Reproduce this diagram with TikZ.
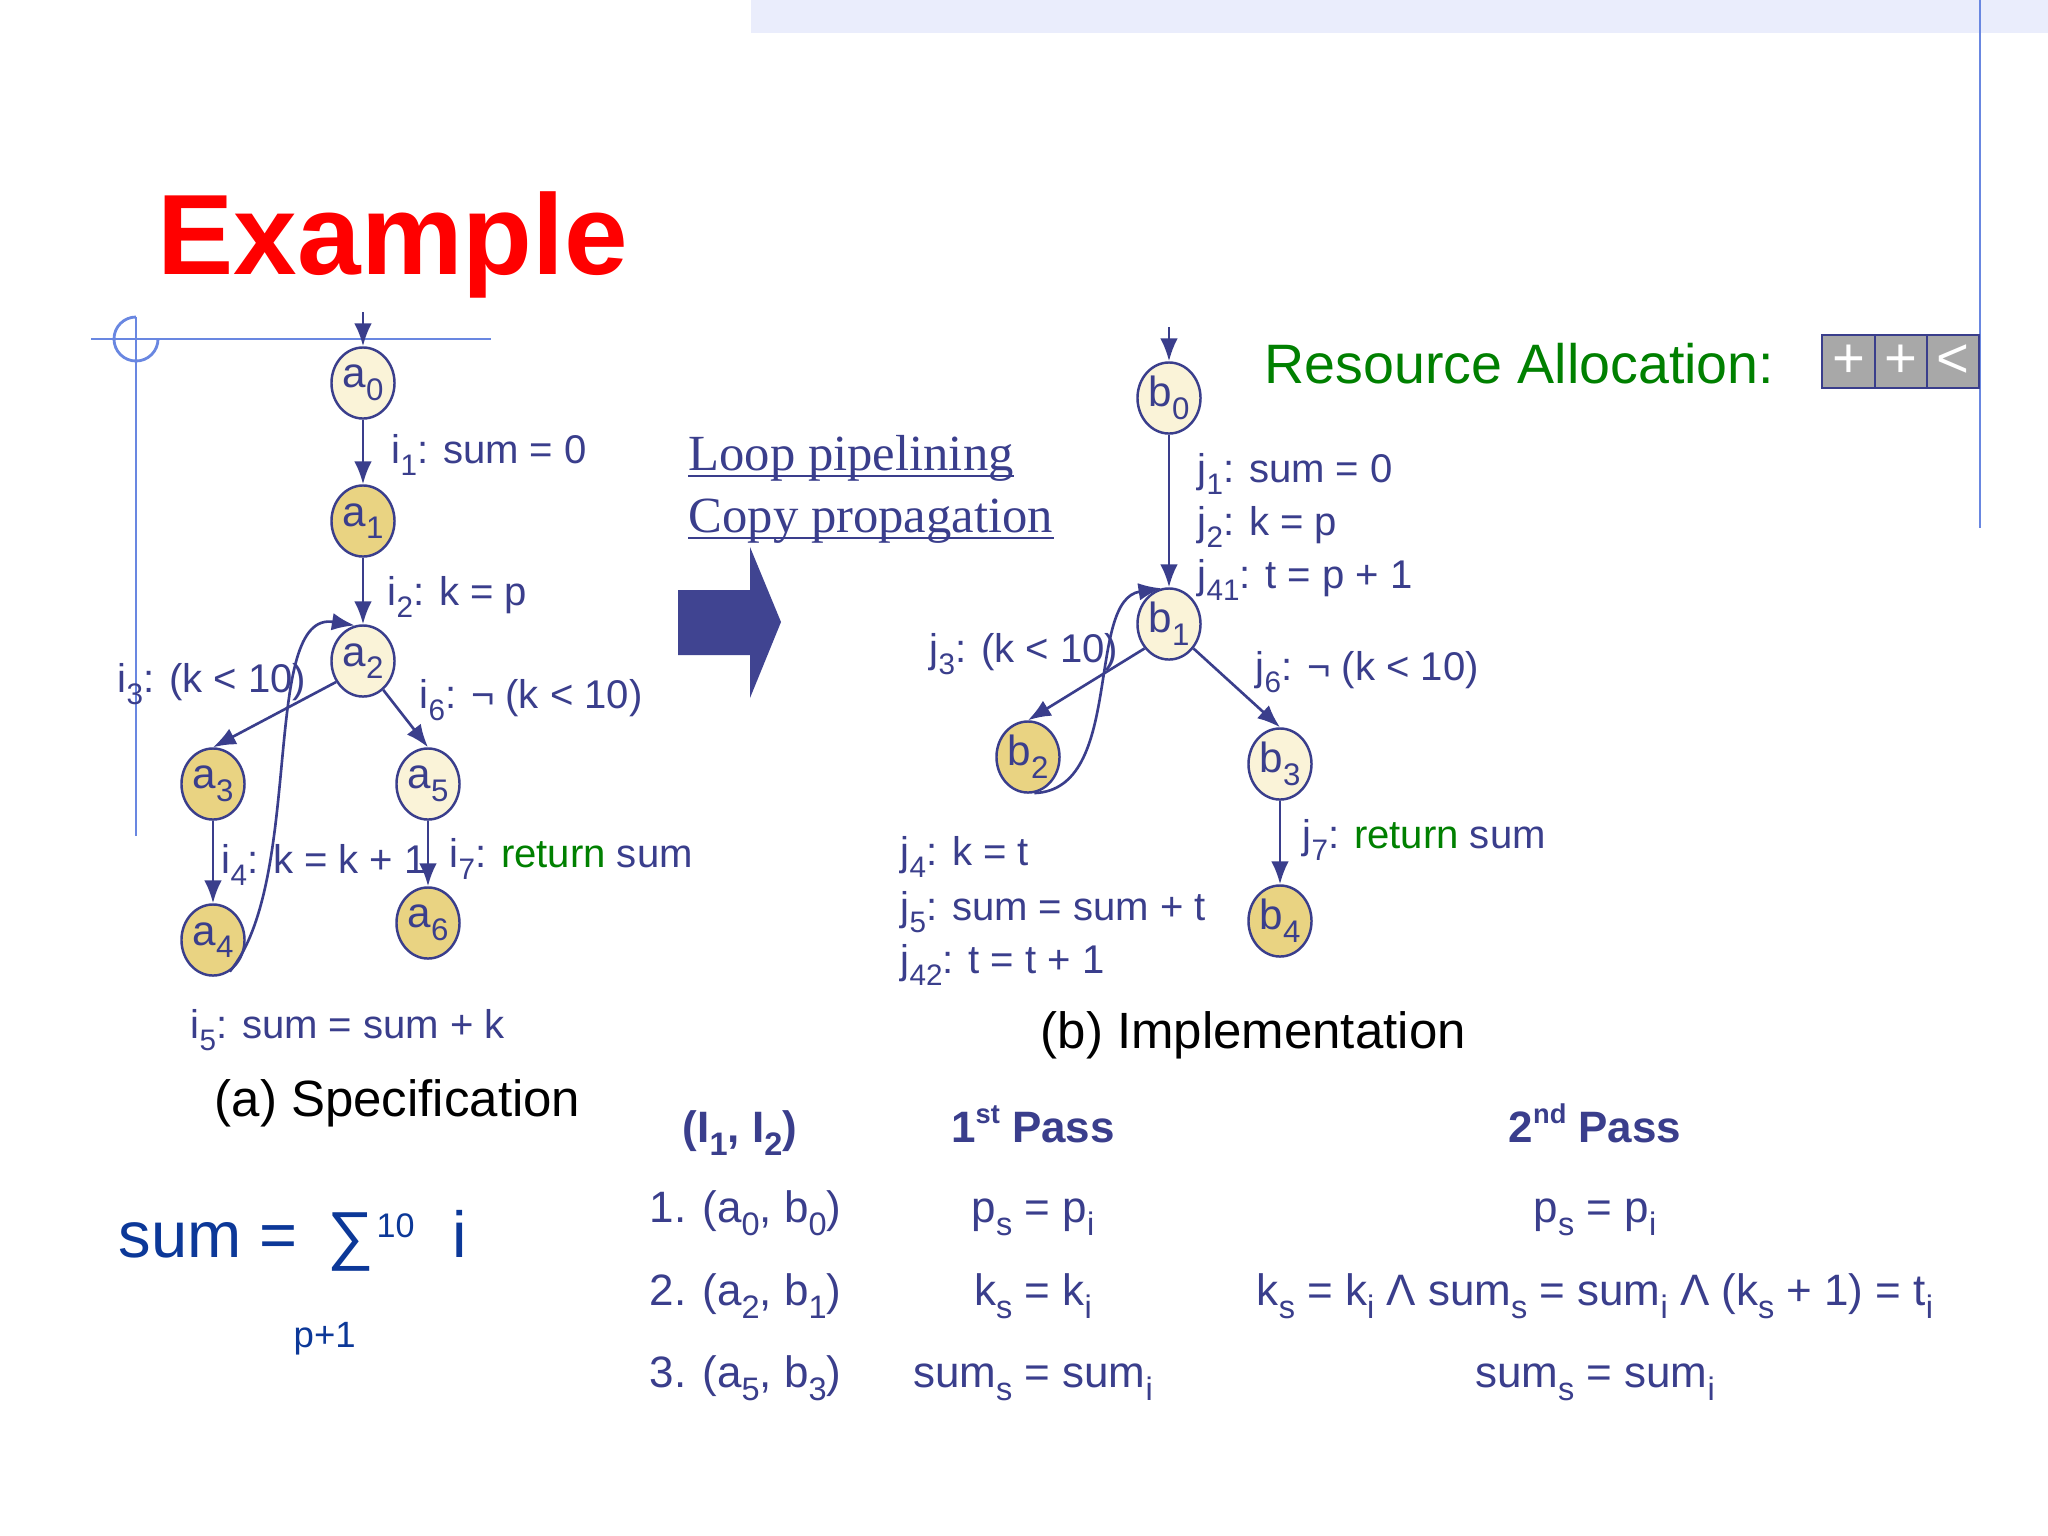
\documentclass[tikz,border=0pt]{standalone}
\usepackage{fontspec}
\setmainfont{Liberation Sans}
\newfontfamily\tnr{Liberation Serif}
\usetikzlibrary{shapes.geometric,arrows.meta}
\definecolor{navy}{RGB}{58,62,140}
\definecolor{goldc}{RGB}{233,211,130}
\definecolor{creamc}{RGB}{250,243,216}
\definecolor{guide}{RGB}{105,135,225}
\definecolor{grn}{RGB}{0,128,0}
\definecolor{royal}{RGB}{12,56,152}
\definecolor{arrowc}{RGB}{64,68,145}
\definecolor{bannerc}{RGB}{234,237,252}
\definecolor{cellgray}{RGB}{168,168,168}
\newcommand\sbt[1]{\raisebox{-0.3em}{\scalebox{0.74}{#1}}}
\newcommand\spt[1]{\raisebox{0.42em}{\scalebox{0.62}{#1}}}
\newcommand\fsz[1]{\fontsize{#1}{#1}\selectfont}
\begin{document}
\begin{tikzpicture}[x=0.01cm,y=-0.01cm,
  anode/.style={ellipse, draw=navy, line width=0.7pt, minimum width=0.63cm,
    minimum height=0.71cm, inner sep=0pt, text=navy, font=\fsz{12}},
  gold/.style={fill=goldc},
  cream/.style={fill=creamc},
  edge/.style={draw=navy, line width=0.75pt, -{Latex[length=6.5pt,width=5pt]}},
  lbl/.style={anchor=base west, inner sep=0pt, text=navy, font=\fsz{11.4}},
  caption/.style={anchor=base west, inner sep=0pt, text=black, font=\fsz{14.5}},
  tbl/.style={anchor=base, inner sep=0pt, text=navy, font=\fsz{12.5}},
  tblhead/.style={anchor=base, inner sep=0pt, text=navy, font=\bfseries\fsz{12.5}},
  guideline/.style={draw=guide, line width=0.8pt},
  uline/.style={draw=navy, line width=0.7pt},
  cellbox/.style={rectangle, draw=navy, line width=0.8pt, fill=cellgray,
    minimum height=0.53cm, inner sep=0pt, text=white, font=\fsz{16}},
  sumtxt/.style={anchor=base west, inner sep=0pt, text=royal}
]
\useasboundingbox (0,0) rectangle (2048,1536);
\fill[white] (0,0) rectangle (2048,1536);

% banner and guide lines
\fill[bannerc] (751,0) rectangle (2048,33);
\draw[guideline] (1980,0) -- (1980,528);
\draw[guideline] (91,339) -- (491,339);
\draw[guideline] (136,317) -- (136,836);
\draw[guideline] (136,317) arc[start angle=90,end angle=360,radius=0.22cm];

% title
\node[anchor=base west, inner sep=0pt, text=red, font=\bfseries\fsz{32.5}] (title) at (157,274) {Example};

% left graph
\coordinate (ea) at (363,312);
\node[anode,cream] (a0) at (363,383) {a\sbt{0}};
\node[anode,gold]  (a1) at (363,521) {a\sbt{1}};
\node[anode,cream] (a2) at (363,661) {a\sbt{2}};
\node[anode,gold]  (a3) at (213,784) {a\sbt{3}};
\node[anode,cream] (a5) at (428,784) {a\sbt{5}};
\node[anode,gold]  (a4) at (213,940) {a\sbt{4}};
\node[anode,gold]  (a6) at (428,923) {a\sbt{6}};

\draw[edge] (ea) -- (a0);
\draw[edge] (a0) -- (a1);
\draw[edge] (a1) -- (a2);
\draw[edge] (a2.218) -- (a3.north);
\draw[edge] (a2.-55) -- (a5.north);
\draw[edge] (a3) -- (a4);
\draw[edge] (a5) -- (a6);
\draw[edge] (a4.-62) .. controls (305,880) and (260,610) .. (a2.103);

\node[lbl] (l1) at (391,463) {i\sbt{1}: sum = 0};
\node[lbl] (l2) at (387,605) {i\sbt{2}: k = p};
\node[lbl] (l3) at (117,692) {i\sbt{3}: (k < 10)};
\node[lbl] (l6) at (419,708) {i\sbt{6}: ¬ (k < 10)};
\node[lbl] (l4) at (221,873) {i\sbt{4}: k = k + 1};
\node[lbl] (l7) at (449,867) {i\sbt{7}: \textcolor{grn}{return} sum};
\node[lbl] (l5) at (190,1038) {i\sbt{5}: sum = sum + k};
\node[caption] (capa) at (214,1116) {(a) Specification};

% transformation
\node[anchor=base west, inner sep=0pt, text=navy, font=\tnr\fsz{14.4}] (lp) at (688,470) {Loop pipelining};
\node[anchor=base west, inner sep=0pt, text=navy, font=\tnr\fsz{14.4}] (cp) at (688,532) {Copy propagation};
\draw[uline] (lp.base west) ++(0,6) -- ([yshift=-6*0.01cm]lp.base east);
\draw[uline] (cp.base west) ++(0,6) -- ([yshift=-6*0.01cm]cp.base east);
\fill[arrowc] (678,590) -- (750,590) -- (750,547) -- (781,622) -- (750,698) -- (750,655) -- (678,655) -- cycle;

% right graph
\coordinate (eb) at (1169,327);
\node[anode,cream] (b0) at (1169,398) {b\sbt{0}};
\node[anode,cream] (b1) at (1169,624) {b\sbt{1}};
\node[anode,gold]  (b2) at (1028,757) {b\sbt{2}};
\node[anode,cream] (b3) at (1280,764) {b\sbt{3}};
\node[anode,gold]  (b4) at (1280,921) {b\sbt{4}};

\draw[edge] (eb) -- (b0);
\draw[edge] (b0) -- (b1);
\draw[edge] (b1.225) -- (b2.north);
\draw[edge] (b1.-45) -- (b3.north);
\draw[edge] (b3) -- (b4);
\draw[edge] (b2.-80) .. controls (1125,790) and (1085,600) .. (b1.102);

\node[lbl] (m1) at (1197,482) {j\sbt{1}: sum = 0};
\node[lbl] (m2) at (1197,535) {j\sbt{2}: k = p};
\node[lbl] (m41) at (1197,588) {j\sbt{41}: t = p + 1};
\node[lbl] (m3) at (929,662) {j\sbt{3}: (k < 10)};
\node[lbl] (m6) at (1255,680) {j\sbt{6}: ¬ (k < 10)};
\node[lbl] (m7) at (1302,848) {j\sbt{7}: \textcolor{grn}{return} sum};
\node[lbl] (m4) at (900,865) {j\sbt{4}: k = t};
\node[lbl] (m5) at (900,920) {j\sbt{5}: sum = sum + t};
\node[lbl] (m42) at (900,973) {j\sbt{42}: t = t + 1};
\node[caption] (capb) at (1040,1048) {(b) Implementation};

% resource allocation
\node[anchor=base west, inner sep=0pt, text=grn, font=\fsz{15.8}] (ra) at (1264,383) {Resource Allocation:};
\node[cellbox, minimum width=0.53cm] (c1) at (1848.5,361.5) {+};
\node[cellbox, minimum width=0.52cm] (c2) at (1901,361.5) {+};
\node[cellbox, minimum width=0.52cm] (c3) at (1953,361.5) {<};

% table
\node[tblhead] (h0) at (740,1142) {(I\sbt{1}, I\sbt{2})};
\node[tblhead] (h1) at (1033,1142) {1\spt{st} Pass};
\node[tblhead] (h2) at (1595,1142) {2\spt{nd} Pass};
\node[tbl, anchor=base west] (r1a) at (649,1222) {1. (a\sbt{0}, b\sbt{0})};
\node[tbl] (r1b) at (1033,1222) {p\sbt{s} = p\sbt{i}};
\node[tbl] (r1c) at (1595,1222) {p\sbt{s} = p\sbt{i}};
\node[tbl, anchor=base west] (r2a) at (649,1305) {2. (a\sbt{2}, b\sbt{1})};
\node[tbl] (r2b) at (1033,1305) {k\sbt{s} = k\sbt{i}};
\node[tbl] (r2c) at (1595,1305) {k\sbt{s} = k\sbt{i} Λ sum\sbt{s} = sum\sbt{i} Λ (k\sbt{s} + 1) = t\sbt{i}};
\node[tbl, anchor=base west] (r3a) at (649,1387) {3. (a\sbt{5}, b\sbt{3})};
\node[tbl] (r3b) at (1033,1387) {sum\sbt{s} = sum\sbt{i}};
\node[tbl] (r3c) at (1595,1387) {sum\sbt{s} = sum\sbt{i}};

% sum formula
\node[sumtxt, font=\fsz{18.5}] (sumeq) at (118,1257) {sum =};
\node[sumtxt, font=\fsz{18.5}] (sig) at (327,1257) {∑};
\node[sumtxt, font=\fsz{9.7}] (sup10) at (376,1237) {10};
\node[sumtxt, font=\fsz{18.5}] (ivar) at (452,1257) {i};
\node[sumtxt, font=\fsz{10.4}] (lower) at (293,1347) {p+1};
\end{tikzpicture}
\end{document}
